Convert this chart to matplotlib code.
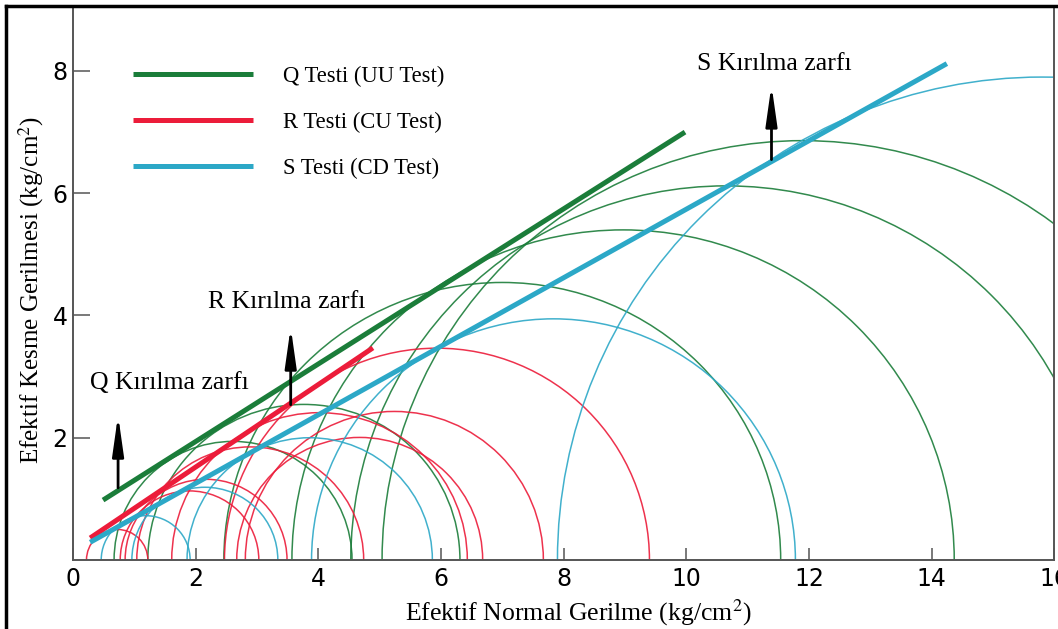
import numpy as np
import matplotlib
matplotlib.use('Agg')
import matplotlib.pyplot as plt
from matplotlib.patches import Arc
from matplotlib.lines import Line2D

plt.rcParams['font.family'] = ['Liberation Serif', 'DejaVu Serif']
plt.rcParams['mathtext.fontset'] = 'stix'

# Mohr circles (center, radius)
q_centers = [2.61, 3.765, 7.0, 8.97, 10.65, 11.9]
q_radii = [1.94, 2.545, 4.54, 5.40, 6.12, 6.86]

r_centers = [0.72, 1.9, 2.17, 2.89, 4.02, 4.675, 5.24, 5.935]
r_radii = [0.5, 1.13, 1.32, 1.85, 2.41, 2.005, 2.43, 3.465]

s_centers = [1.185, 2.15, 3.86, 7.835, 15.8]
s_radii = [0.725, 1.19, 2.0, 3.945, 7.9]

# failure envelopes (start / end points)
q_env_x = [0.49, 9.98]
q_env_y = [0.98, 7.0]
r_env_x = [0.28, 4.89]
r_env_y = [0.36, 3.47]
s_env_x = [0.28, 14.25]
s_env_y = [0.29, 8.12]

labels = ['Q Testi (UU Test)', 'R Testi (CU Test)', 'S Testi (CD Test)']
arrow_x = [0.735, 3.55, 11.39]
arrow_y0 = [1.18, 2.54, 6.55]
arrow_y1 = [2.37, 3.81, 7.77]
arrow_text = ['Q Kırılma zarfı', 'R Kırılma zarfı', 'S Kırılma zarfı']
arrow_text_x = [0.28, 2.2, 10.17]
arrow_text_y = [2.90, 4.22, 8.12]

green = '#1b7d3a'
red = '#ec1c3a'
cyan = '#2ca8c7'

fig = plt.figure(figsize=(10.58, 6.29), dpi=100)
ax = fig.add_axes([0.069, 0.1097, 0.9274, 0.8776])

for cs, rs, col in [(q_centers, q_radii, green), (r_centers, r_radii, red),
                    (s_centers, s_radii, cyan)]:
    for c, r in zip(cs, rs):
        ax.add_patch(Arc((c, 0), 2 * r, 2 * r, theta1=0, theta2=180,
                         color=col, lw=1.1, alpha=0.9))

ax.plot(q_env_x, q_env_y, color=green, lw=3.6, label=labels[0],
        solid_capstyle='butt')
ax.plot(r_env_x, r_env_y, color=red, lw=3.6, label=labels[1],
        solid_capstyle='butt')
ax.plot(s_env_x, s_env_y, color=cyan, lw=3.6, label=labels[2],
        solid_capstyle='butt')

for i in range(3):
    ax.annotate('', xy=(arrow_x[i], arrow_y1[i]), xytext=(arrow_x[i], arrow_y0[i]),
                arrowprops=dict(arrowstyle='-|>,head_length=1.2,head_width=0.17',
                                color='black', lw=2, shrinkA=0, shrinkB=0,
                                mutation_scale=20))
    ax.text(arrow_text_x[i], arrow_text_y[i], arrow_text[i], fontsize=18.5,
            va='center', ha='left')

ax.legend(loc='upper left', bbox_to_anchor=(0.061, 0.896), frameon=False,
          fontsize=16.3, handlelength=5.3, handletextpad=1.33,
          labelspacing=1.1, borderpad=0, borderaxespad=0)

ax.set_xlim(0, 16)
ax.set_ylim(0, 9.03)
ax.set_xticks(range(0, 17, 2))
ax.set_yticks([2, 4, 6, 8])
ax.tick_params(axis='x', direction='in', length=8.5, width=1.1, color='#555555',
               labelsize=17, pad=5)
ax.tick_params(axis='y', direction='in', length=12.5, width=1.1, color='#555555',
               labelsize=17, pad=4)
for lab in ax.get_xticklabels() + ax.get_yticklabels():
    lab.set_family(['Liberation Sans Narrow', 'DejaVu Sans'])

for s in ['left', 'bottom', 'right']:
    ax.spines[s].set_color('#555555')
    ax.spines[s].set_linewidth(1.4)
ax.spines['top'].set_visible(False)

ax.set_xlabel('Efektif Normal Gerilme (kg/cm$^2$)', fontsize=18.5)
ax.set_ylabel('Efektif Kesme Gerilmesi (kg/cm$^2$)', fontsize=18.1)
ax.xaxis.set_label_coords(0.515, -0.067)
ax.yaxis.set_label_coords(-0.028, 0.489)

# black frame of the picture (top and left)
fig.add_artist(Line2D([0.0061, 0.0061], [0, 0.9897], transform=fig.transFigure,
                      color='black', lw=2.5))
fig.add_artist(Line2D([0.0061, 1], [0.9897, 0.9897], transform=fig.transFigure,
                      color='black', lw=2.5))

fig.savefig('out.png', dpi=100)
